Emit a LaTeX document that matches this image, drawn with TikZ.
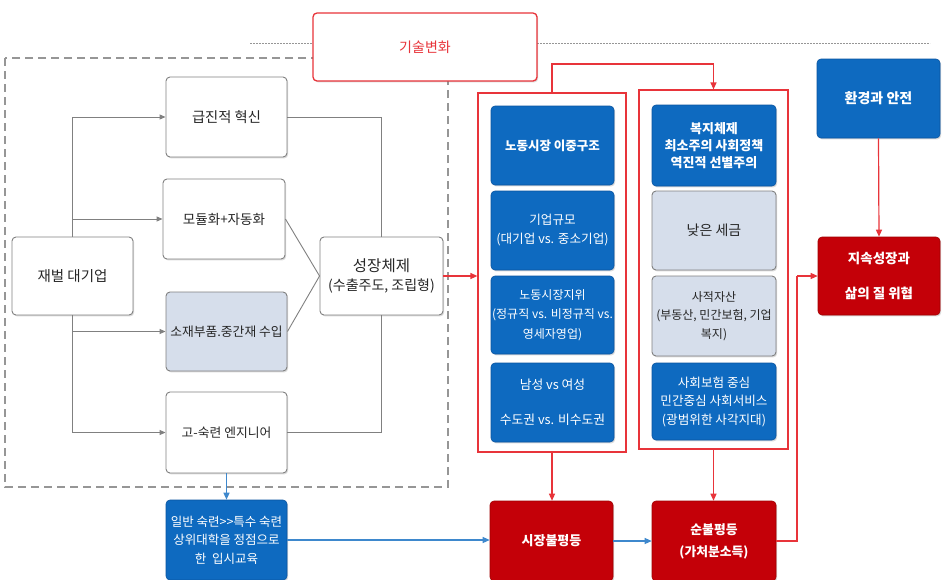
\documentclass[tikz,border=0pt]{standalone}
\usepackage{fontspec}
\setmainfont{Noto Sans CJK KR}
\usetikzlibrary{arrows.meta,shadows,calc}
\definecolor{kblue}{RGB}{14,106,192}
\definecolor{kbluedark}{RGB}{10,84,160}
\definecolor{kred}{RGB}{196,0,8}
\definecolor{kreddark}{RGB}{160,0,0}
\definecolor{kline}{RGB}{232,52,58}
\definecolor{klight}{RGB}{214,222,235}
\definecolor{kgray}{RGB}{128,128,128}
\definecolor{kdash}{RGB}{150,150,150}
\newcommand\fsz[2]{\fontsize{#1}{#2}\selectfont}
\begin{document}
\begin{tikzpicture}[x=1pt,y=-1pt,
  basebox/.style={rounded corners=4pt, align=center, inner sep=1pt,
     drop shadow={shadow xshift=1.2pt,shadow yshift=-1.4pt,opacity=.28}},
  whitebox/.style={basebox, draw=kgray, line width=0.9pt, fill=white, text=black!85},
  lightbox/.style={basebox, draw=kgray, line width=0.9pt, fill=klight, text=black!85},
  bluebox/.style={basebox, draw=kbluedark, line width=0.6pt, fill=kblue, text=white},
  redbox/.style={basebox, draw=kreddark, line width=0.6pt, fill=kred, text=white},
  colframe/.style={draw=kline, line width=1.2pt, fill=white},
  gline/.style={draw=kgray, line width=0.9pt},
  garrow/.style={gline, -{Triangle[length=6pt,width=5pt]}},
  rline/.style={draw=kline, line width=1.2pt},
  rarrow/.style={rline, -{Triangle[length=7pt,width=6pt]}},
  barrow/.style={draw=kblue!80, line width=1.2pt, -{Triangle[length=7pt,width=6pt]}},
  sz/.style 2 args={minimum width=#1pt, minimum height=#2pt}
]
\useasboundingbox (0,0) rectangle (943,579);
\clip (0,0) rectangle (943,579);
\fill[white] (0,0) rectangle (943,579);

% dotted guide line and dashed frame
\draw[kdash, line width=0.9pt, dash pattern=on 1.6pt off 1.4pt] (250,43) -- (313,43);
\draw[kdash, line width=0.9pt, dash pattern=on 1.6pt off 1.4pt] (537,43) -- (930,43);
\draw[kdash, line width=1.2pt, dash pattern=on 8pt off 5pt] (5,58) rectangle (448,487);

% technology change box
\node[basebox, draw=kline, line width=1.3pt, fill=white, text=kline, sz={224}{68}, font=\fsz{14}{17}] (tech) at (425,47) {기술변화};

% left part nodes
\node[whitebox, sz={121}{80}, font=\fsz{14.3}{18}] (rad) at (226.5,117) {급진적 혁신};
\node[whitebox, sz={122}{80}, font=\fsz{13.5}{18}] (mod) at (224,219) {모듈화+자동화};
\node[whitebox, sz={121}{78}, font=\fsz{14.5}{18}] (chae) at (72.5,276) {재벌 대기업};
\node[whitebox, sz={123}{78}, font=\fsz{14}{19}] (grow) at (381.5,276) {{\fsz{15.5}{19}성장체제}\\(수출주도, 조립형)};
\node[lightbox, sz={121}{79}, font=\fsz{12.8}{18}] (mat) at (226.5,331.5) {소재부품.중간재 수입};
\node[whitebox, sz={121}{81}, font=\fsz{12.8}{18}] (eng) at (226.5,432.5) {고-숙련 엔지니어};
\node[bluebox, sz={121}{80}, font=\fsz{12.5}{18.5}] (edu) at (226.5,540) {일반 숙련>{}>특수 숙련\\상위대학을 정점으로\\한\ \ 입시교육};

% gray connectors
\coordinate (jtop) at (72,117);
\coordinate (jmod) at (72,219);
\coordinate (jbot) at (72,432.5);
\coordinate (jmat) at (72,331.5);
\draw[gline] (chae.north -| jtop) -- (jtop);
\draw[garrow] (jtop) -- (rad.west);
\draw[garrow] (jmod) -- (mod.west);
\draw[gline] (chae.south -| jbot) -- (jbot);
\draw[garrow] (jbot) -- (eng.west);
\draw[garrow] (jmat) -- (mat.west);
\draw[gline] (rad.east) -| (grow.north);
\draw[gline] (eng.east) -| (grow.south);
\draw[gline] (mod.east) -- (grow.west);
\draw[gline] (mat.east) -- (grow.west);
\draw[barrow] (eng.south) -- (edu.north);

% column frames
\node[colframe, sz={148}{359}, inner sep=0pt] (col1) at (552,272.5) {};
\node[colframe, sz={149}{359}, inner sep=0pt] (col2) at (713.5,269.5) {};

% column 1
\node[bluebox, sz={123}{79}, font=\fsz{12.5}{17}\bfseries] (c1a) at (552.5,145.5) {노동시장 이중구조};
\node[bluebox, sz={123}{79}, font=\fsz{12.6}{19}] (c1b) at (552.5,230.5) {기업규모\\(대기업 vs. 중소기업)};
\node[bluebox, sz={123}{78}, font=\fsz{12}{19.5}] (c1c) at (552.5,315) {노동시장지위\\(정규직 vs. 비정규직 vs.\\영세자영업)};
\node[bluebox, sz={123}{79}, font=\fsz{12.8}{35}] (c1d) at (552.5,402.5) {남성 vs 여성\\수도권 vs. 비수도권};

% column 2
\node[bluebox, sz={124}{81}, font=\fsz{13}{17}\bfseries] (c2a) at (714,145.5) {복지체제\\최소주의 사회정책\\역진적 선별주의};
\node[lightbox, sz={124}{79}, font=\fsz{14}{18}] (c2b) at (714,230.5) {낮은 세금};
\node[lightbox, sz={124}{80}, font=\fsz{12}{18.5}] (c2c) at (714,316) {사적자산\\(부동산, 민간보험, 기업\\복지)};
\node[bluebox, sz={124}{77}, font=\fsz{12.6}{18.5}] (c2d) at (714,401.5) {사회보험 중심\\민간중심 사회서비스\\(광범위한 사각지대)};

% right nodes
\node[bluebox, sz={123}{79}, font=\fsz{14}{18}\bfseries] (env) at (878.5,98.5) {환경과 안전};
\node[redbox, sz={122}{78}, font=\fsz{13.5}{35}\bfseries] (sus) at (879,276) {지속성장과\\삶의 질 위협};

% bottom nodes
\node[redbox, sz={123}{80}, font=\fsz{13}{18}\bfseries] (mkt) at (551.5,541) {시장불평등};
\node[redbox, sz={124}{80}, font=\fsz{12.8}{22}\bfseries] (net) at (714,541) {순불평등\\(가처분소득)};

% red connectors
\coordinate (ra) at (552,64);
\coordinate (rb) at (713.5,64);
\draw[rline] (col1.north) -- (ra) -- (rb);
\draw[rarrow] (rb) -- (col2.north);
\draw[rarrow] (grow.east) -- (grow.east -| col1.west);
\draw[rarrow] (col1.south) -- (col1.south |- mkt.north);
\draw[rarrow] (col2.south) -- (col2.south |- net.north);
\draw[rarrow] (env.south) -- (sus.north);
\coordinate (rc) at (797,541);
\coordinate (rd) at (797,276);
\draw[rline] (net.east) -- (rc) -- (rd);
\draw[rarrow] (rd) -- (rd -| sus.west);

% blue connectors
\draw[barrow] (edu.east) -- (edu.east -| mkt.west);
\draw[barrow] (mkt.east) -- (mkt.east -| net.west);
\end{tikzpicture}
\end{document}
